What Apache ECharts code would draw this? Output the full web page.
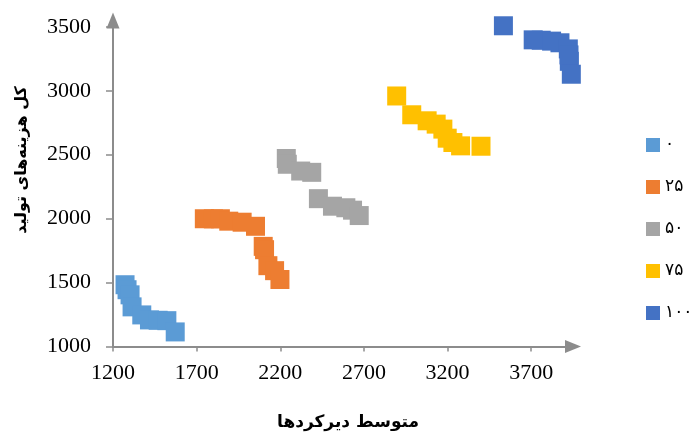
<!DOCTYPE html>
<html>
<head>
<meta charset="utf-8">
<script src="https://cdn.jsdelivr.net/npm/echarts@6/dist/echarts.min.js"></script>
<style>html,body{margin:0;padding:0;background:#fff}#c{width:697px;height:437px}</style>
</head>
<body>
<div id="c"></div>
<script>
var seriesNames = ['۰', '۲۵', '۵۰', '۷۵', '۱۰۰'];
var s0 = [[1272,1483],[1284,1444],[1302,1404],[1314,1310],[1372,1247],[1418,1208],[1470,1205],[1522,1202],[1572,1114]];
var s25 = [[1746,1999],[1800,1998],[1842,1999],[1892,1980],[1972,1972],[2052,1940],[2098,1783],[2106,1757],[2126,1632],[2166,1593],[2198,1524]];
var s50 = [[2236,2470],[2242,2425],[2322,2372],[2388,2362],[2428,2156],[2512,2097],[2592,2085],[2632,2066],[2672,2024]];
var s75 = [[2896,2959],[2986,2812],[3078,2765],[3132,2739],[3172,2700],[3198,2629],[3232,2595],[3278,2569],[3400,2566]];
var s100 = [[3534,3508],[3712,3398],[3760,3395],[3822,3388],[3872,3375],[3922,3327],[3928,3230],[3926,3280],[3940,3129]];
var xTicks = [1200, 1700, 2200, 2700, 3200, 3700];
var yTicks = [1000, 1500, 2000, 2500, 3000, 3500];
var xTitle = 'متوسط دیرکردها';
var yTitle = 'کل هزینه‌های تولید';

var colors = ['#5B9BD5', '#ED7D31', '#A5A5A5', '#FFC000', '#4472C4'];
var allData = [s0, s25, s50, s75, s100];
var axisColor = '#8C8C8C';
var chart = echarts.init(document.getElementById('c'), null, {renderer: 'canvas'});

function axisCommon(ticks, tickLen) {
  return {
    axisLine: {show: true, lineStyle: {color: axisColor, width: 2}, symbol: ['none', 'triangle'], symbolSize: [13, 16]},
    axisTick: {show: true, length: tickLen, lineStyle: {color: axisColor, width: 1.5}, customValues: ticks},
    axisLabel: {color: '#000', fontFamily: 'Liberation Serif', fontSize: 22, customValues: ticks,
      formatter: function (v) { return String(v); }},
    splitLine: {show: false}
  };
}

var xAxis = Object.assign({type: 'value', min: 1200, max: 3950, interval: 500}, axisCommon(xTicks, 5));
xAxis.axisLabel.margin = 16;
var yAxis = Object.assign({type: 'value', min: 1000, max: 3550, interval: 500}, axisCommon(yTicks, 7));
yAxis.axisLabel.margin = 22;

chart.setOption({
  animation: false,
  color: colors,
  grid: {left: 113, right: 124, top: 20.4, bottom: 90.5, containLabel: false},
  xAxis: xAxis,
  yAxis: yAxis,
  legend: {
    orient: 'vertical', left: 641, top: 130,
    itemWidth: 14, itemHeight: 14, itemGap: 22, icon: 'rect',
    textStyle: {color: '#000', fontFamily: 'DejaVu Sans', fontSize: 17, lineHeight: 20},
    data: seriesNames
  },
  graphic: [
    {type: 'text', x: 348, y: 423, style: {text: xTitle, font: 'bold 17px "DejaVu Sans"', fill: '#000', align: 'center', verticalAlign: 'middle'}},
    {type: 'text', x: 22, y: 160, rotation: Math.PI / 2, style: {text: yTitle, font: 'bold 16px "DejaVu Sans"', fill: '#000', align: 'center', verticalAlign: 'middle'}}
  ],
  series: seriesNames.map(function (n, i) {
    return {name: n, type: 'scatter', symbol: 'rect', symbolSize: 19, data: allData[i], itemStyle: {color: colors[i], opacity: 1}};
  })
});
</script>
</body>
</html>
